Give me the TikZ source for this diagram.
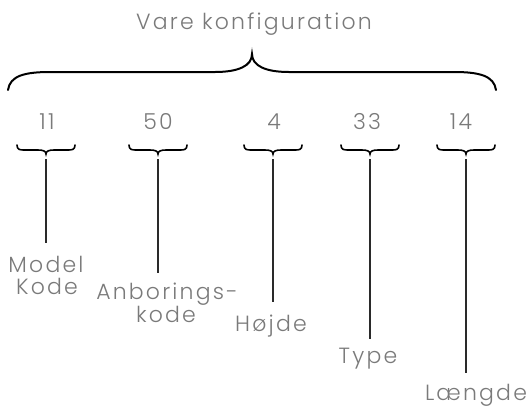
\documentclass[tikz,border=0pt]{standalone}
\usepackage{fontspec}
\setmainfont{Poppins}[UprightFont={* Light},LetterSpace=10]
\definecolor{txt}{HTML}{7A7A7A}
\definecolor{stem}{HTML}{2A2A2A}
\begin{document}
\begin{tikzpicture}[x=1pt,y=-1pt,
  lbl/.style={text=txt,font=\fontsize{22}{26}\selectfont,inner sep=0pt,anchor=base,text height=14pt,text depth=4pt},
  bigbrace/.style={draw=black,line width=2pt,line cap=round},
  smallbrace/.style={draw=black,line width=1.6pt,line cap=round},
  stemline/.style={draw=stem,line width=2.4pt,shorten <=5pt}]
\useasboundingbox (0,0) rectangle (529,408);
% title and big brace
\node[lbl] (title) at (254,29) {Vare konfiguration};
\coordinate (bl) at (8,90);
\coordinate (btip) at (252,54);
\coordinate (br) at (496,90);
\draw[bigbrace] (bl) .. controls (10,76) and (24,72) .. (50,72)
  -- (215,72) .. controls (238,72) and (252,66) .. (btip)
  .. controls (252,66) and (266,72) .. (289,72)
  -- (454,72) .. controls (480,72) and (494,76) .. (br);
% numbers
\node[lbl] (n1) at (47,129) {11};
\node[lbl] (n2) at (158,129) {50};
\node[lbl] (n3) at (274,129) {4};
\node[lbl] (n4) at (367,129) {33};
\node[lbl] (n5) at (461,129) {14};
% small braces
\foreach \i/\c in {1/46,2/158,3/273,4/370,5/466}{
  \coordinate (t\i) at (\c,154);
  \draw[smallbrace] (\c-29,145) .. controls (\c-29,150) and (\c-26,150) .. (\c-21,150)
    -- (\c-8,150) .. controls (\c-3,150) and (\c,151) .. (t\i)
    .. controls (\c,151) and (\c+3,150) .. (\c+8,150)
    -- (\c+21,150) .. controls (\c+26,150) and (\c+29,150) .. (\c+29,145);
}
% labels
\node[lbl] (l1a) at (46,272) {Model};
\node[lbl] (l1b) at (47,294) {Kode};
\node[lbl] (l2a) at (167,299) {Anborings-};
\node[lbl] (l2b) at (166,322) {kode};
\node[lbl] (l3) at (271,331) {Højde};
\node[lbl] (l4) at (368,363) {Type};
\node[lbl] (l5) at (476,400) {Længde};
% stems
\draw[stemline,shorten >=15pt] (t1) -- (t1 |- l1a.north);
\draw[stemline,shorten >=12pt] (t2) -- (t2 |- l2a.north);
\draw[stemline,shorten >=15pt] (t3) -- (t3 |- l3.north);
\draw[stemline,shorten >=10pt] (t4) -- (t4 |- l4.north);
\draw[stemline,shorten >=13pt] (t5) -- (t5 |- l5.north);
\end{tikzpicture}
\end{document}
